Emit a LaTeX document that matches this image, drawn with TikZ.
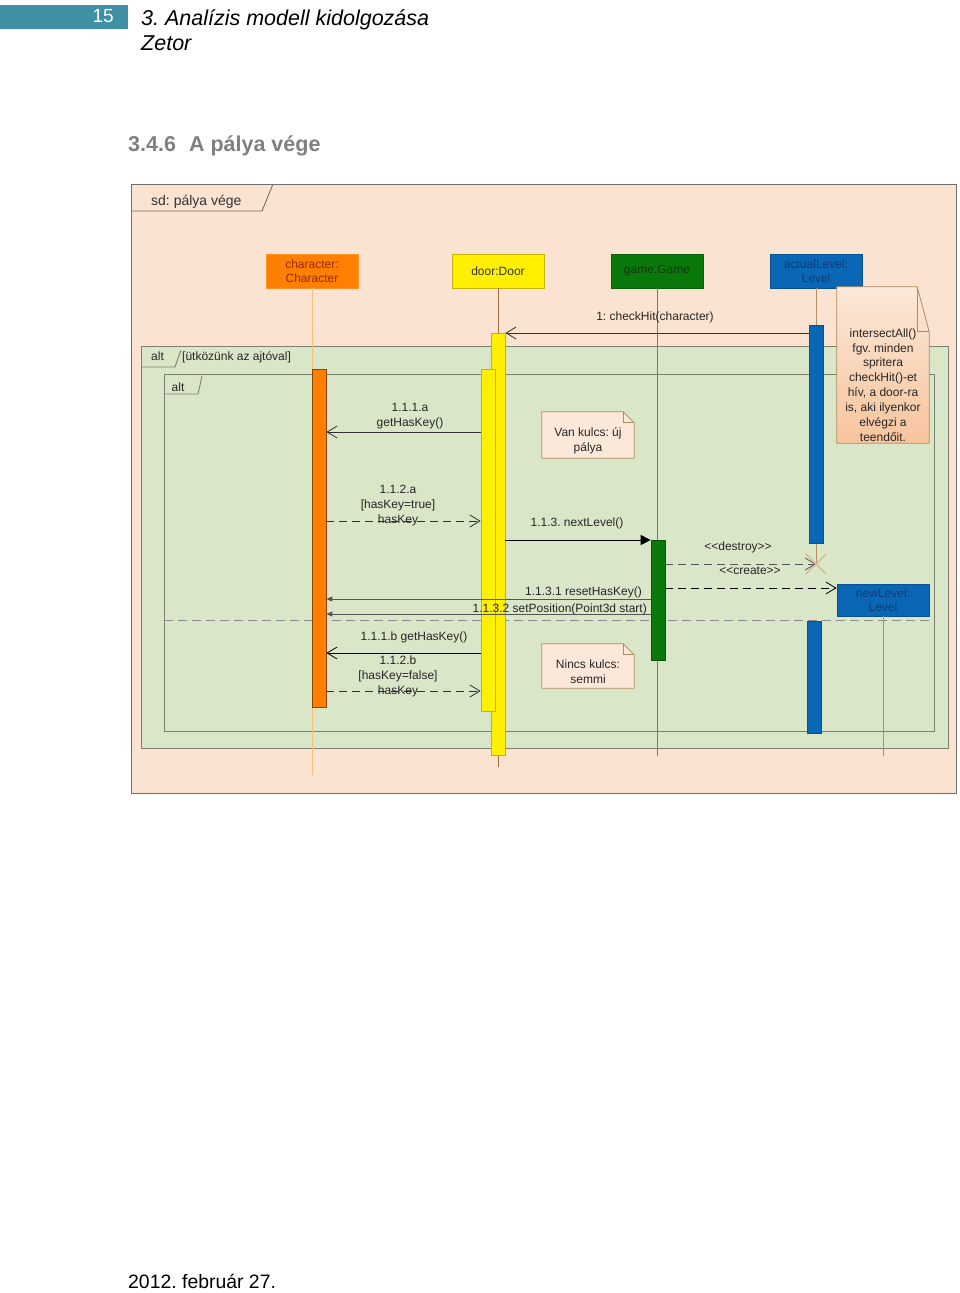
\documentclass[tikz,border=0pt]{standalone}
\usepackage{fontspec}
\setmainfont{Liberation Sans}
\usetikzlibrary{arrows.meta,positioning}
\frenchspacing
\definecolor{pagebar}{HTML}{3F8FA5}
\definecolor{headgray}{HTML}{808080}
\definecolor{sdfill}{HTML}{FBE3D1}
\definecolor{framegray}{HTML}{6E6E6E}
\definecolor{altfill}{HTML}{DAE6C8}
\definecolor{altline}{HTML}{7D8070}
\definecolor{chrorange}{HTML}{FF7F00}
\definecolor{chrtext}{HTML}{9A2A00}
\definecolor{dooryellow}{HTML}{FFF000}
\definecolor{yellowline}{HTML}{C8B400}
\definecolor{gamegreen}{HTML}{0A780A}
\definecolor{gametext}{HTML}{0A3A0A}
\definecolor{lvlblue}{HTML}{0A67B5}
\definecolor{lvltext}{HTML}{0C3A78}
\definecolor{notefill}{HTML}{FBE8D8}
\definecolor{noteorange}{HTML}{F7C49C}
\definecolor{noteline}{HTML}{B08A60}
\definecolor{lifebrown}{HTML}{A0703C}
\definecolor{lifeorange}{HTML}{F2C27A}
\definecolor{msgline}{HTML}{303030}
\definecolor{syncgray}{HTML}{555555}
\definecolor{xtan}{HTML}{D9B98A}

\begin{document}
\begin{tikzpicture}[x=1pt,y=-1pt,>={Straight Barb[length=10pt,width=12pt]},
  font=\fontsize{12}{15}\selectfont,
  head/.style={minimum width=92, minimum height=34, inner sep=1pt, align=center,
    font=\fontsize{12}{14}\selectfont, line width=0.8pt},
  bar/.style={minimum width=14, inner sep=0pt, line width=0.7pt},
  life/.style={line width=0.8pt},
  call/.style={->, draw=msgline, line width=0.8pt},
  reply/.style={call, dash pattern=on 8pt off 5pt},
  sync/.style={draw=black, line width=0.9pt, -{Triangle[length=10pt,width=10pt]}},
  back/.style={draw=syncgray, line width=0.8pt, -{Triangle[length=6pt,width=5pt]}},
  lbl/.style={align=center, inner sep=0pt, text=black!85},
  tag/.style={inner sep=0pt, font=\fontsize{12}{14}\selectfont, text=black!85},
  altframe/.style={draw=altline, fill=altfill, line width=0.9pt},
  sepline/.style={draw=black!45, line width=0.9pt, dash pattern=on 9pt off 5pt},
  notebox/.style={inner sep=0pt},
  notedraw/.style={draw=noteline, line width=0.8pt},
  notetext/.style={align=center, inner sep=0pt, font=\fontsize{12}{15}\selectfont, text=black!85}]
\useasboundingbox (0,0) rectangle (960,1293);

% page head and foot
\fill[pagebar] (0,5) rectangle (128,29);
\node[anchor=base east, inner sep=0pt, text=white, font=\fontsize{19}{19}\selectfont] (pagenum) at (114,22.7) {15};
\node[anchor=base west, inner sep=0pt, font=\fontsize{21.5}{25}\selectfont\itshape] (chaptitle) at (141,25) {3. Analízis modell kidolgozása};
\node[anchor=base west, inner sep=0pt, font=\fontsize{21.5}{25}\selectfont\itshape] (teamname) at (141,50) {Zetor};
\node[anchor=base west, inner sep=0pt, text=headgray, font=\fontsize{21.5}{25}\selectfont\bfseries] (sectitle) at (128,151.7) {3.4.6\hspace{13pt}A pálya vége};
\node[anchor=base west, inner sep=0pt, font=\fontsize{19.4}{22}\selectfont] (datum) at (128,1288.3) {2012. február 27.};

% sd frame
\draw[draw=framegray, fill=sdfill, line width=1pt] (131,184) rectangle (956,793);
\draw[draw=framegray, line width=0.9pt] (131,211) -- (262,211) -- (273,184);
\node[anchor=base west, inner sep=0pt, font=\fontsize{14}{16}\selectfont, text=black!80] (sdname) at (151,205) {sd: pálya vége};

% alt frames
\draw[altframe] (141,346) rectangle (948,748);
\draw[draw=altline, line width=0.9pt] (141,367) -- (175,367) -- (181,350);
\node[tag] (alttag) at (157.5,356) {alt};
\node[tag, anchor=west] (altguard) at (182,357) {[ütközünk az ajtóval]};
\draw[altframe] (164,374) rectangle (934,731);
\draw[draw=altline, line width=0.9pt] (164,394) -- (198,394) -- (202,376);
\node[tag] (inaltag) at (178,387) {alt};
\draw[sepline] (164,620) -- (934,620);

% lifeline heads
\node[head, fill=chrorange, draw=chrorange!85!white, text=chrtext] (chr) at (312,271) {character:\\Character};
\node[head, fill=dooryellow, draw=yellowline, text=black!80] (door) at (498,271) {door:Door};
\node[head, fill=gamegreen, draw=gamegreen!80!black, text=gametext] (game) at (657,271) {game:Game};
\node[head, fill=lvlblue, draw=lvlblue!80!black, text=lvltext] (lvl) at (816,271) {actualLevel:\\Level};

% lifelines
\coordinate (chrend) at (312,775);
\coordinate (doorend) at (498,767);
\coordinate (gameend) at (657,756);
\coordinate (lvlx) at (816,564);
\coordinate (newend) at (883,756);
\draw[life, lifeorange] (chr.south) -- (chrend);
\draw[life, lifebrown] (door.south) -- (doorend);
\draw[life, lifebrown] (game.south) -- (gameend);
\draw[life, lifebrown!80!white] (lvl.south) -- (lvlx);

% activations
\node[bar, fill=chrorange, draw=chrorange!55!black, minimum height=338] (chract) at (319,538) {};
\node[bar, fill=dooryellow, draw=yellowline, minimum height=422] (doorout) at (498,544) {};
\node[bar, fill=dooryellow, draw=yellowline, minimum height=342] (doorin) at (488,540) {};
\node[bar, fill=lvlblue, draw=lvlblue!80!black, minimum height=218] (lvlact) at (816,434) {};
\node[bar, fill=lvlblue, draw=lvlblue!80!black, minimum height=112] (lvlact2) at (814,677.5) {};
\node[bar, fill=gamegreen, draw=gamegreen!70!black, minimum height=120] (gameact) at (658,600) {};

% new level object
\node[head, minimum height=32, fill=lvlblue, draw=lvlblue!80!black, text=lvltext] (newlvl) at (883,600) {newLevel:\\Level};
\draw[life, lifebrown!80!white] (newlvl.south) -- (newend);

% messages
\coordinate (m1) at (0,333);
\coordinate (m2) at (0,432);
\coordinate (m3) at (0,521);
\coordinate (m4) at (0,540);
\coordinate (m5) at (0,564);
\coordinate (m6) at (0,588);
\coordinate (m7) at (0,599);
\coordinate (m8) at (0,614);
\coordinate (m9) at (0,653);
\coordinate (m10) at (0,691);
\draw[call] (lvlact.west |- m1) -- (doorout.east |- m1);
\draw[call] (doorin.west |- m2) -- (chract.east |- m2);
\draw[reply] (chract.east |- m3) -- (doorin.west |- m3);
\draw[sync] (doorout.east |- m4) -- (gameact.west |- m4);
\draw[reply, draw=syncgray] (gameact.east |- m5) -- (lvlx);
\draw[reply, draw=black] (gameact.east |- m6) -- (newlvl.west |- m6);
\draw[back] (gameact.west |- m7) -- (chract.east |- m7);
\draw[back] (gameact.west |- m8) -- (chract.east |- m8);
\draw[call, draw=black] (doorin.west |- m9) -- (chract.east |- m9);
\draw[reply] (chract.east |- m10) -- (doorin.west |- m10);
\draw[draw=xtan, line width=1.2pt] ([shift={(-10,-10)}]lvlx) -- ([shift={(10,10)}]lvlx)
  ([shift={(-10,10)}]lvlx) -- ([shift={(10,-10)}]lvlx);

% message labels
\node[lbl] (lcheck) at (655,317) {1: checkHit(character)};
\node[lbl] (lgeta) at (410,416) {1.1.1.a\\getHasKey()};
\node[lbl] (lhasa) at (398,506) {1.1.2.a\\{}[hasKey=true]\\hasKey};
\node[lbl] (lnext) at (577,523) {1.1.3. nextLevel()};
\node[lbl] (ldestroy) at (738,547) {<{}<destroy>{}>};
\node[lbl] (lcreate) at (750,571) {<{}<create>{}>};
\node[lbl, anchor=east] (lreset) at (642,592) {1.1.3.1 resetHasKey()};
\node[lbl, anchor=east] (lsetpos) at (647,609) {1.1.3.2 setPosition(Point3d start)};
\node[lbl] (lgetb) at (414,637) {1.1.1.b getHasKey()};
\node[lbl] (lhasb) at (398,676) {1.1.2.b\\{}[hasKey=false]\\hasKey};

% notes
\node[notebox, minimum width=92, minimum height=46] (vannote) at (588,435) {};
\filldraw[notedraw, fill=notefill] (vannote.north west) -- ([xshift=-11pt]vannote.north east)
  -- ([yshift=-11pt]vannote.north east) -- (vannote.south east) -- (vannote.south west) -- cycle;
\draw[notedraw] ([xshift=-11pt]vannote.north east) |- ([yshift=-11pt]vannote.north east);
\node[notetext] (vantext) at (588,441) {Van kulcs: új\\pálya};

\node[notebox, minimum width=92, minimum height=44] (nincsnote) at (588,666) {};
\filldraw[notedraw, fill=notefill] (nincsnote.north west) -- ([xshift=-11pt]nincsnote.north east)
  -- ([yshift=-11pt]nincsnote.north east) -- (nincsnote.south east) -- (nincsnote.south west) -- cycle;
\draw[notedraw] ([xshift=-11pt]nincsnote.north east) |- ([yshift=-11pt]nincsnote.north east);
\node[notetext] (nincstext) at (588,672) {Nincs kulcs:\\semmi};

\node[notebox, minimum width=92, minimum height=156] (lvlnote) at (883,365) {};
\draw[notedraw, top color=notefill, bottom color=noteorange] (lvlnote.north west) -- ([xshift=-12pt]lvlnote.north east)
  -- ([yshift=-45pt]lvlnote.north east) -- (lvlnote.south east) -- (lvlnote.south west) -- cycle;
\draw[notedraw] ([xshift=-12pt]lvlnote.north east) |- ([yshift=-45pt]lvlnote.north east);
\node[notetext, font=\fontsize{12}{14.9}\selectfont] (lvlnotetext) at (883,385) {intersectAll()\\fgv. minden\\spritera\\checkHit()-et\\hív, a door-ra\\is, aki ilyenkor\\elvégzi a\\teendőit.};
\end{tikzpicture}
\end{document}
